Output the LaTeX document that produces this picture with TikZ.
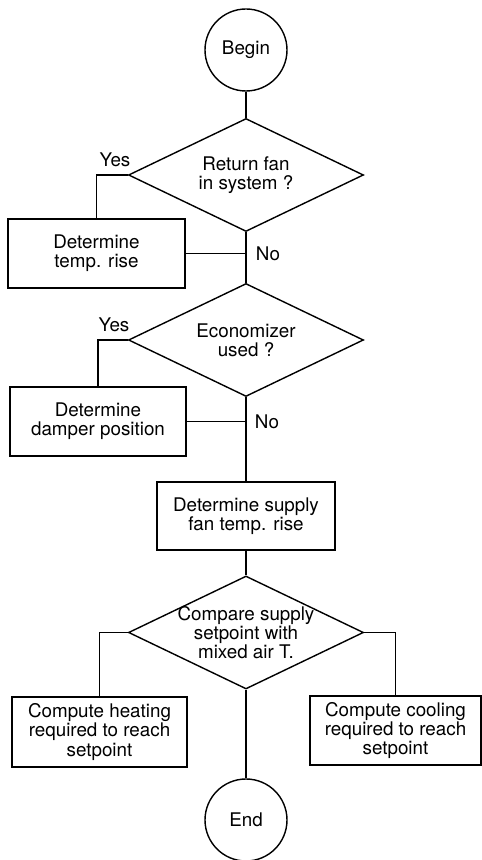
\documentclass[tikz,border=0pt]{standalone}
\usepackage{fontspec}
\setmainfont{TeX Gyre Heros}
\usetikzlibrary{shapes.geometric}
\tikzset{
  every node/.style={font=\fontsize{10.7}{11}\selectfont},
  terminal/.style={draw,circle,line width=0.8pt,minimum size=1.64cm,inner sep=0pt},
  decision/.style={draw,diamond,line width=0.8pt,aspect=2.1,inner sep=-3pt,minimum width=4.7cm,minimum height=2.26cm,align=center},
  process/.style={draw,rectangle,line width=0.8pt,inner sep=0pt,align=center},
  link/.style={line width=0.8pt},
}
\begin{document}
\begin{tikzpicture}
\useasboundingbox (0,0) rectangle (9.640,17.200);
\node[terminal] (begin) at (4.920,16.200) {Begin};
\node[decision] (ret) at (4.920,13.700) {Return fan\\in system ?};
\node[process,minimum width=3.540cm,minimum height=1.380cm] (rise) at (1.930,12.130) {Determine\\temp. rise};
\node[decision] (econ) at (4.920,10.400) {Economizer\\used ?};
\node[process,minimum width=3.520cm,minimum height=1.380cm] (damper) at (1.960,8.770) {Determine\\damper position};
\node[process,minimum width=3.560cm,minimum height=1.360cm] (fanrise) at (4.920,6.880) {Determine supply\\fan temp. rise};
\node[decision] (cmp) at (4.920,4.550) {Compare supply\\setpoint with\\mixed air T.};
\node[process,minimum width=3.500cm,minimum height=1.400cm] (heat) at (1.990,2.560) {Compute heating\\required to reach\\setpoint};
\node[process,minimum width=3.420cm,minimum height=1.380cm] (cool) at (7.910,2.590) {Compute cooling\\required to reach\\setpoint};
\node[terminal] (end) at (4.920,0.800) {End};
\node (yes1) at (2.300,14.000) {Yes};
\node (no1) at (5.360,12.120) {No};
\node (yes2) at (2.280,10.700) {Yes};
\node (no2) at (5.340,8.760) {No};
\draw[link] (begin) -- (ret);
\draw[link] (ret.west) -| (rise.north);
\draw[link] (ret.south) -- (econ.north);
\draw[link] (rise.east) -- (rise.east -| ret.south);
\draw[link] (econ.west) -| (damper.north);
\draw[link] (econ.south) -- (fanrise.north);
\draw[link] (damper.east) -- (damper.east -| econ.south);
\draw[link] (fanrise.south) -- (cmp.north);
\draw[link] (cmp.west) -| (heat.north);
\draw[link] (cmp.east) -| (cool.north);
\draw[link] (cmp.south) -- (end.north);
\end{tikzpicture}
\end{document}
